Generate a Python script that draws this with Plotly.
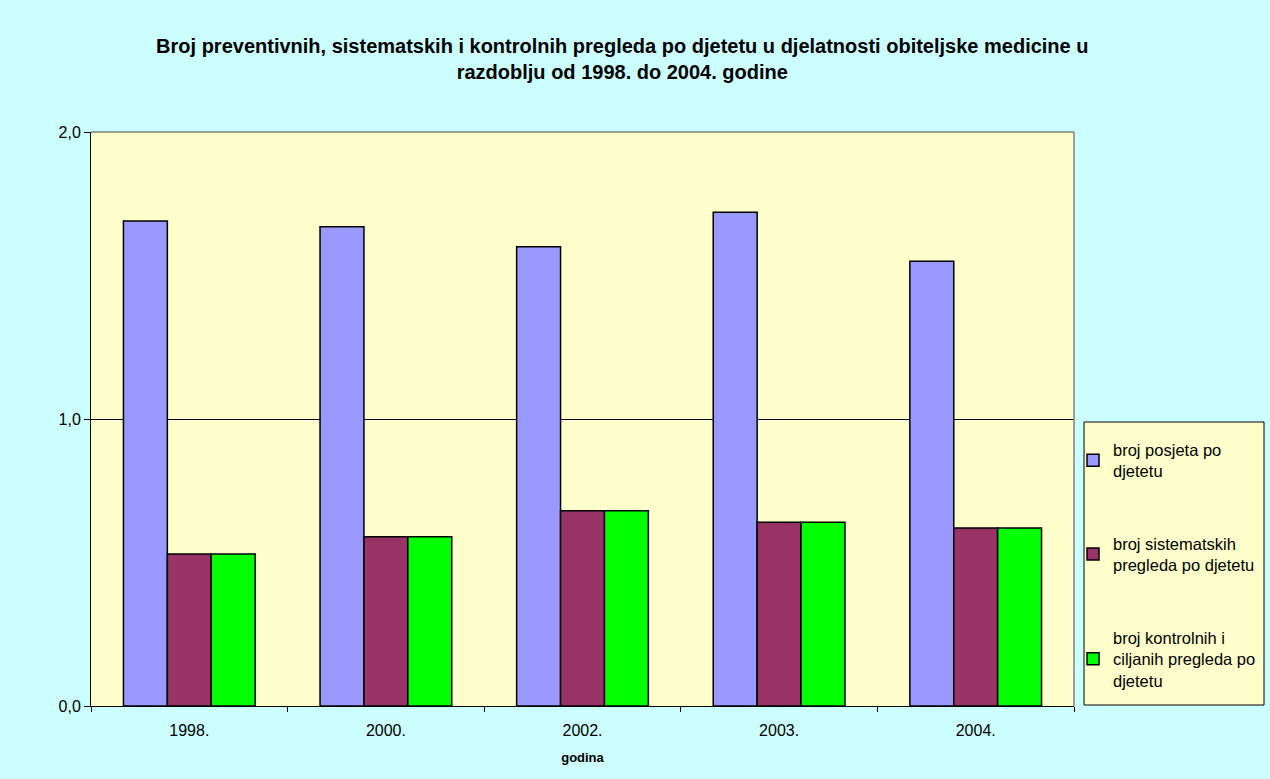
import plotly.graph_objects as go

# data
godine = ["1998.", "2000.", "2002.", "2003.", "2004."]
posjeti = [1.69, 1.67, 1.60, 1.72, 1.55]
sistematski = [0.53, 0.59, 0.68, 0.64, 0.62]
kontrolni = [0.53, 0.59, 0.68, 0.64, 0.62]

series_names = [
    "broj posjeta po<br>djetetu",
    "broj sistematskih<br>pregleda po djetetu",
    "broj kontrolnih i<br>ciljanih pregleda po<br>djetetu",
]
colors = ["#9999FF", "#993366", "#00FF00"]

fig = go.Figure()
for i, (name, vals, col) in enumerate(zip(series_names, [posjeti, sistematski, kontrolni], colors)):
    fig.add_trace(go.Bar(
        x=godine, y=vals, name=name, legendgroup=str(i),
        marker=dict(color=col, line=dict(color="black", width=1.5)),
    ))

fig.update_layout(
    width=1270, height=779,
    margin=dict(l=91, r=196, t=132, b=73, autoexpand=False),
    paper_bgcolor="#CCFFFF",
    plot_bgcolor="#FFFFCC",
    font=dict(family="Arial, Liberation Sans, sans-serif", size=16, color="black"),
    separators=",.",
    barmode="group", bargap=0.33, bargroupgap=0,
    title=dict(
        text="<b>Broj preventivnih, sistematskih i kontrolnih pregleda po djetetu u djelatnosti obiteljske medicine u<br>razdoblju od 1998. do 2004. godine</b>",
        x=0.49, xanchor="center", y=0.932, yanchor="top",
        font=dict(size=20),
    ),
    legend=dict(
        x=0.999, xanchor="left", y=0.477, yanchor="top",
        bgcolor="rgba(0,0,0,0)", tracegroupgap=48,
        font=dict(size=16.5),
    ),
    showlegend=True,
)

fig.update_xaxes(
    showline=True, linecolor="black", linewidth=1,
    ticks="outside", tickson="boundaries", ticklen=5, tickcolor="black",
    ticklabelstandoff=10,
    title=dict(text="<b>godina</b>", font=dict(size=13), standoff=14),
    tickfont=dict(size=16),
)
fig.update_yaxes(
    range=[0, 2], tickvals=[0, 1, 2], tickformat=".1f",
    showline=True, linecolor="black", linewidth=1,
    ticks="outside", ticklen=6, tickcolor="black",
    showgrid=True, gridcolor="black", gridwidth=1,
    zeroline=False, tickfont=dict(size=16),
)

# grey frame on top and right of the plot area
fig.add_shape(type="line", xref="x domain", yref="y domain", x0=0, x1=1, y0=1, y1=1,
              line=dict(color="#808080", width=1.5))
fig.add_shape(type="line", xref="x domain", yref="y domain", x0=1, x1=1, y0=0, y1=1,
              line=dict(color="#808080", width=1.5))
# legend box
fig.add_shape(type="rect", xref="paper", yref="paper", x0=1.0102, x1=1.1933, y0=0.0017, y1=0.4948,
              fillcolor="#FFFFCC", line=dict(color="black", width=1), layer="below")

fig.write_html("out.html", config={"displayModeBar": False},
               post_script="document.body.style.margin='0';")
